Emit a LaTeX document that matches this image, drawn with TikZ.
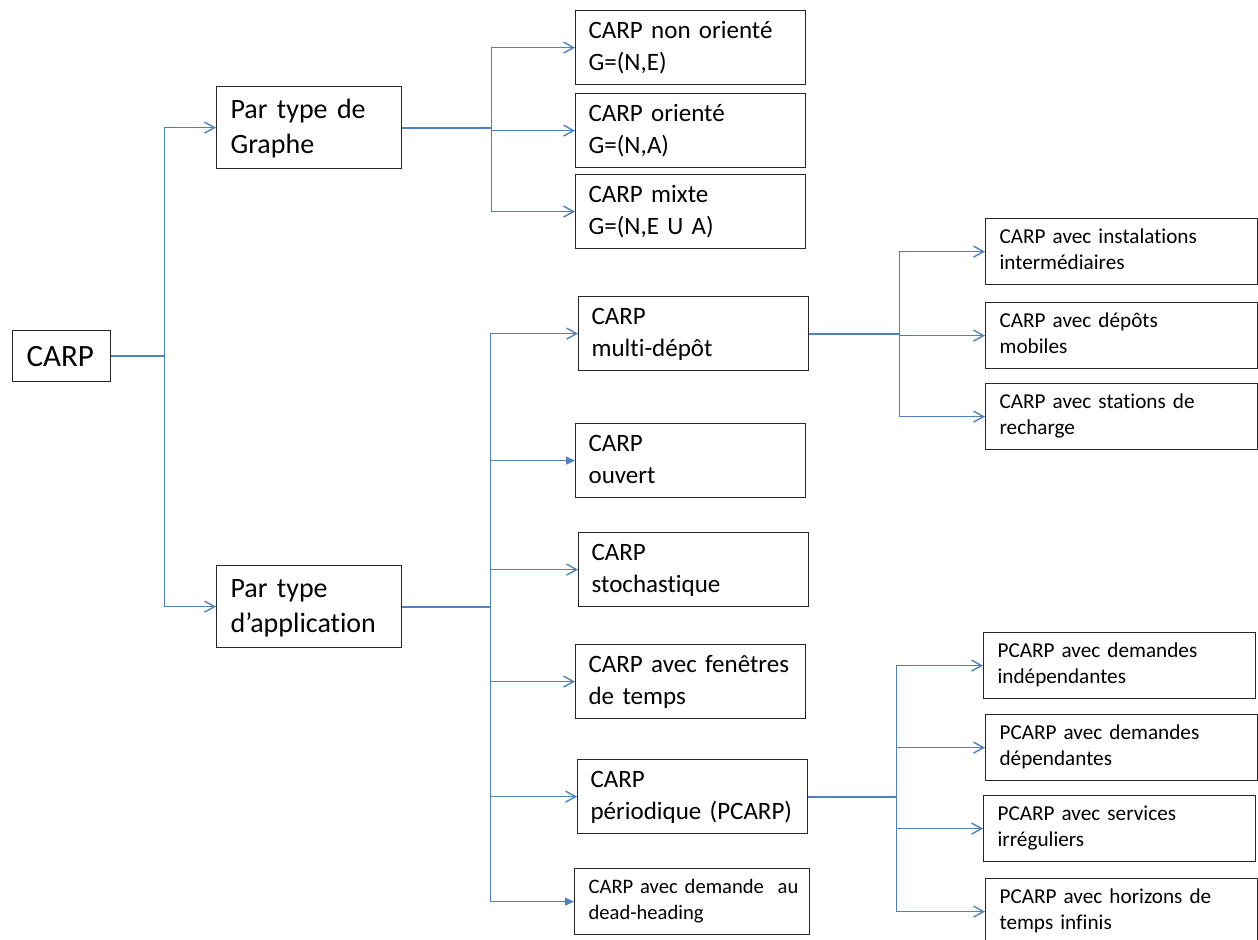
\documentclass[tikz,border=0pt]{standalone}
\usepackage{fontspec}
\setmainfont{Carlito}[Ligatures=NoCommon]
\usepackage{tikz}
\usetikzlibrary{arrows.meta}
\definecolor{bleulien}{RGB}{79,129,189}

\tikzset{
  boite/.style={draw=black!85, line width=0.6pt, anchor=north west, align=left, inner ysep=0pt},
  niveau0/.style={boite, font=\fontsize{15.5}{18}\selectfont, inner xsep=7pt, text width=35pt, text height=18pt, text depth=7.5pt},
  niveau1/.style={boite, font=\fontsize{14}{17.5}\selectfont, inner xsep=7pt, text width=78.5pt, text height=16pt, text depth=25pt},
  niveau2/.style={boite, font=\fontsize{12.5}{16}\selectfont, inner xsep=6.5pt, text width=102pt, text height=14pt, text depth=23pt},
  niveau3/.style={boite, font=\fontsize{10.6}{12.75}\selectfont, inner xsep=7pt, text width=122pt, text height=12.5pt, text depth=20.5pt},
  lien/.style={draw=bleulien, line width=0.7pt},
  fleche/.style={lien, -{Straight Barb[length=5pt,width=5.5pt]}},
  flechepleine/.style={lien, -{Triangle[length=4.5pt,width=4pt]}},
}

\begin{document}
\begin{tikzpicture}[x=0.5pt,y=-0.5pt]
    \clip (0,0) rectangle (1258,939);

    % Racine et les deux familles
    \node[niveau0] (carp) at (12,330) {CARP};
    \node[niveau1] (graphe) at (216,86) {Par type de\\Graphe};
    \node[niveau1] (appli) at (216,565) {Par type\\d’application};

    % Par type de graphe
    \node[niveau2] (nonor) at (575,10) {CARP non orienté\\G=(N,E)};
    \node[niveau2] (orient) at (575,93) {CARP orienté\\G=(N,A)};
    \node[niveau2] (mixte) at (575,174) {CARP mixte\\G=(N,E U A)};

    % Par type d'application
    \node[niveau2] (multi) at (578,296) {CARP\\multi-dépôt};
    \node[niveau2] (ouvert) at (575,423) {CARP\\ouvert};
    \node[niveau2] (stoch) at (578,532) {CARP\\stochastique};
    \node[niveau2] (fenetre) at (575,644) {CARP avec fenêtres\\de temps};
    \node[niveau2] (period) at (577,759) {CARP\\périodique (PCARP)};
    \node[niveau3, font=\fontsize{10.3}{12.75}\selectfont, text width=103.5pt] (dead) at (574,868) {\mbox{CARP avec demande\ \ au}\\dead-heading};

    % Variantes du multi-dépôt
    \node[niveau3] (inst) at (985,218) {CARP avec instalations\\intermédiaires};
    \node[niveau3] (mobil) at (985,302) {CARP avec dépôts\\mobiles};
    \node[niveau3] (rech) at (985,383) {CARP avec stations de\\recharge};

    % Variantes du PCARP
    \node[niveau3] (indep) at (983,632) {PCARP avec demandes\\indépendantes};
    \node[niveau3] (dep) at (985,714) {PCARP avec demandes\\dépendantes};
    \node[niveau3] (irreg) at (983,795) {PCARP avec services\\irréguliers};
    \node[niveau3] (infini) at (985,878) {PCARP avec horizons de\\temps infinis};

    % Liaisons
    \draw[lien] (carp.east) -- ++(53,0) coordinate (j0);
    \draw[fleche] (j0) |- (graphe.west);
    \draw[fleche] (j0) |- (appli.west);

    \draw[lien, line width=1pt] (graphe.east) -- ++(89,0) coordinate (j1);
    \foreach \b in {nonor,orient,mixte} \draw[fleche] (j1) |- (\b.west);

    \draw[lien, line width=1pt] (appli.east) -- ++(88,0) coordinate (j2);
    \foreach \b in {multi,stoch,fenetre,period} \draw[fleche] (j2) |- (\b.west);
    \foreach \b in {ouvert,dead} \draw[flechepleine] (j2) |- (\b.west);

    \draw[lien, line width=1pt] (multi.east) -- ++(90,0) coordinate (j3);
    \foreach \b in {inst,mobil,rech} \draw[fleche] (j3) |- (\b.west);

    \draw[lien, line width=1pt] (period.east) -- ++(88,0) coordinate (j4);
    \foreach \b in {indep,dep,irreg,infini} \draw[fleche] (j4) |- (\b.west);
\end{tikzpicture}
\end{document}
